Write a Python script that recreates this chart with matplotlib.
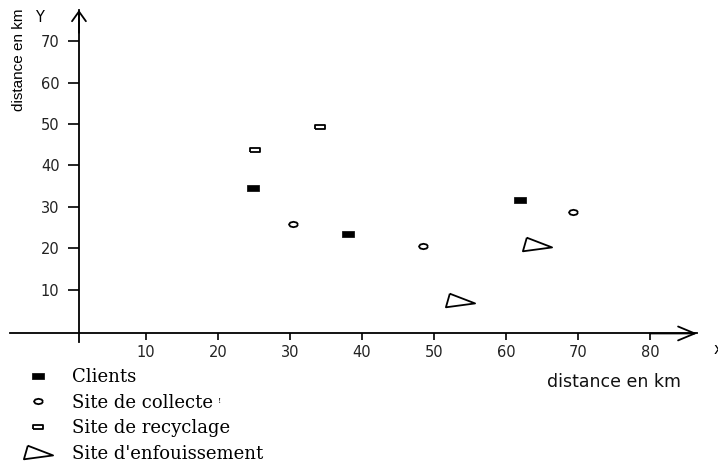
import numpy as np
import matplotlib
matplotlib.use("Agg")
import matplotlib.pyplot as plt
from matplotlib.lines import Line2D

# ---- data ----
clients_x = [24.9, 38.0, 61.9]
clients_y = [34.6, 23.4, 31.7]
collecte_x = [30.4, 48.5, 69.3]
collecte_y = [25.9, 20.6, 28.8]
recyclage_x = [25.1, 34.2]
recyclage_y = [43.7, 49.3]
enfouissement_x = [53.6, 64.3]
enfouissement_y = [7.6, 21.1]
xticks = [10, 20, 30, 40, 50, 60, 70, 80]
yticks = [10, 20, 30, 40, 50, 60, 70]
legend_labels = ["Clients", "Site de collecte", "Site de recyclage", "Site d'enfouissement"]

W, H = 718, 466
fig = plt.figure(figsize=(W / 100, H / 100), dpi=100)
ax = fig.add_axes([0, 0, 1, 1])
ax.set_xlim(-10.26, 89.4)
ax.set_ylim(-32.5, 79.9)

# marker shapes
sq_marker = [(-6, -3.5), (6, -3.5), (6, 3.5), (-6, 3.5), (-6, -3.5)]
t = np.linspace(0, 2 * np.pi, 9)
ell_marker = list(zip(2.0 * np.cos(t), 1.2 * np.sin(t)))
rect_marker = [(-2.5, -1), (2.5, -1), (2.5, 1), (-2.5, 1), (-2.5, -1)]
tri_marker = [(-11, 7), (-15, -7), (15, -3), (-11, 7)]

st_client = dict(marker=sq_marker, markersize=8, color="black", mfc="black", mec="black", mew=0.5, ls="none")
st_coll = dict(marker=ell_marker, markersize=6.5, mfc="white", mec="black", mew=1.3, ls="none")
st_rec = dict(marker=rect_marker, markersize=7, mfc="white", mec="black", mew=1.3, ls="none")
st_enf = dict(marker=tri_marker, markersize=21, mfc="none", mec="black", mew=1.3, ls="none")

ax.plot(clients_x, clients_y, **st_client)
ax.plot(collecte_x, collecte_y, **st_coll)
ax.plot(recyclage_x, recyclage_y, **st_rec)
ax.plot(enfouissement_x, enfouissement_y, **st_enf)

# axes lines
for s in ["top", "right"]:
    ax.spines[s].set_visible(False)
ax.spines["left"].set_position(("data", 0.7))
ax.spines["bottom"].set_position(("data", -0.53))
ax.spines["left"].set_bounds(-2.6, 77.5)
ax.spines["bottom"].set_bounds(-8.9, 86.5)
for s in ["left", "bottom"]:
    ax.spines[s].set_linewidth(1.3)

ax.set_xticks(xticks)
ax.set_yticks(yticks)
ax.tick_params(axis="x", direction="out", length=5, width=1.2, pad=3, labelsize=10.5)
ax.tick_params(axis="y", direction="out", length=8, width=1.2, pad=6, labelsize=10.5)
for lab in ax.get_xticklabels() + ax.get_yticklabels():
    lab.set_fontfamily("DejaVu Sans")
    lab.set_color("#222222")

ax.annotate("", xy=(86.5, -0.53), xytext=(80, -0.53),
            arrowprops=dict(arrowstyle="->,head_length=1.2,head_width=0.5", lw=1.3,
                            shrinkA=0, shrinkB=0, mutation_scale=10, color="black"))
ax.annotate("", xy=(0.7, 77.5), xytext=(0.7, 72),
            arrowprops=dict(arrowstyle="->,head_length=0.7,head_width=0.5", lw=1.3,
                            shrinkA=0, shrinkB=0, mutation_scale=10, color="black"))

def px(x, y):
    return x / W, 1 - y / H

fig.text(*px(39, 18), "Y", fontsize=10.5, family="DejaVu Sans", ha="center", va="center")
fig.text(*px(19, 60), "distance en km", fontsize=11, family="Liberation Sans",
         rotation=90, ha="center", va="center")
fig.text(*px(614, 382), "distance en km", fontsize=12.5, family="DejaVu Sans",
         ha="center", va="center", color="#111111")
fig.text(*px(714, 349), "x", fontsize=10.5, family="DejaVu Sans", ha="left", va="center")
fig.text(*px(220, 401), "!", fontsize=6, family="DejaVu Serif", ha="center", va="center")

handles = [
    Line2D([], [], **st_client),
    Line2D([], [], **st_coll),
    Line2D([], [], **st_rec),
    Line2D([], [], **st_enf),
]
leg = fig.legend(handles, legend_labels, loc="upper left",
                 bbox_to_anchor=px(20, 368), bbox_transform=fig.transFigure,
                 frameon=False, borderpad=0, borderaxespad=0,
                 handlelength=2.0, handletextpad=0.88, labelspacing=0.42,
                 prop=dict(family="DejaVu Serif", size=13))

fig.savefig("out.png", dpi=100)
